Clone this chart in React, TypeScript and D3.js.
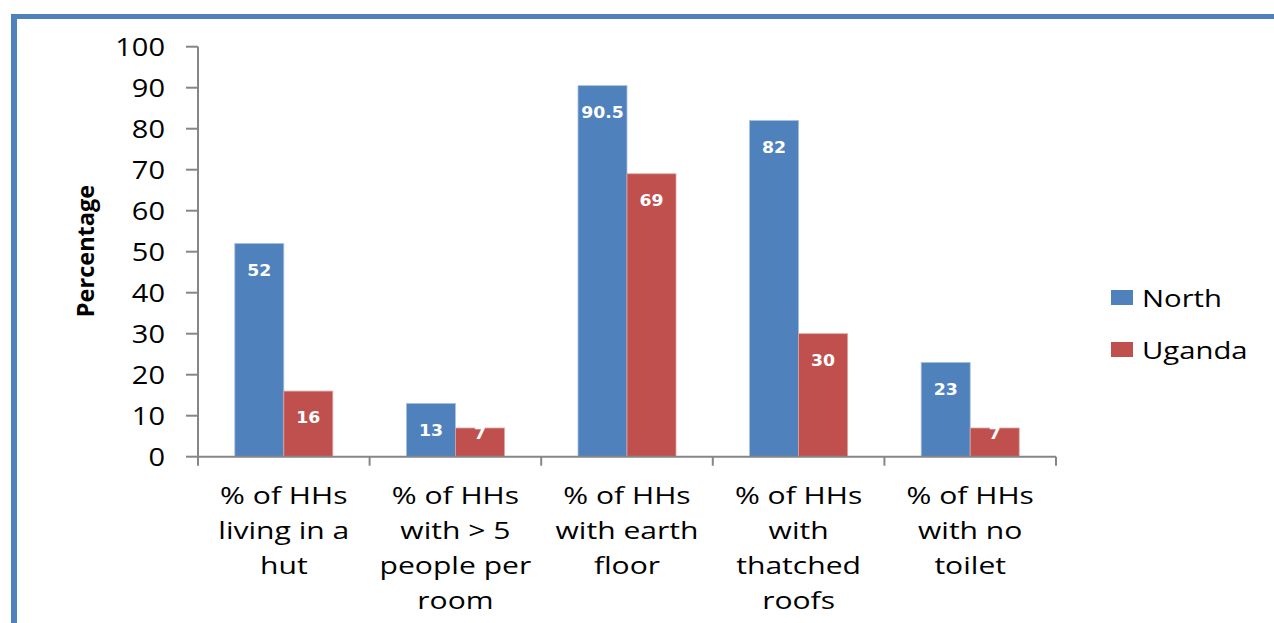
import React from "react";
import * as d3 from "d3";

const categories: string[][] = [
  ["% of HHs", "living in a", "hut"],
  ["% of HHs", "with > 5", "people per", "room"],
  ["% of HHs", "with earth", "floor"],
  ["% of HHs", "with", "thatched", "roofs"],
  ["% of HHs", "with no", "toilet"],
];
const seriesNames = ["North", "Uganda"];
const northValues = [52, 13, 90.5, 82, 23];
const ugandaValues = [16, 7, 69, 30, 7];
const yTicks = [0, 10, 20, 30, 40, 50, 60, 70, 80, 90, 100];
const colors = ["#4F81BD", "#C0504D"];

const FONT = "'Open Sans', 'Liberation Sans', sans-serif";

export default function App() {
  const W = 1274, H = 623;
  const x0 = 198, x1 = 1056;
  const yScale = d3.scaleLinear().domain([0, 100]).range([456.7, 46.7]);
  const xScale = d3.scaleBand<number>().domain(categories.map((_, i) => i)).range([x0, x1]).padding(0);
  const groupW = 98;
  const values = [northValues, ugandaValues];
  const axisColor = "#868686";

  return (
    <svg width={W} height={H} style={{ position: "absolute", left: 0, top: 0, background: "#fff" }}>
      <rect x={0} y={0} width={W} height={H} fill="#fff" />
      {/* frame */}
      <rect x={11} y={14} width={W - 11} height={5} fill="#4F81BD" />
      <rect x={11} y={14} width={6} height={H - 14} fill="#4F81BD" />

      {/* bars */}
      {categories.map((_, ci) => {
        const cx = (xScale(ci) as number) + xScale.bandwidth() / 2;
        const inner = d3.scaleBand<number>().domain([0, 1]).range([cx - groupW / 2, cx + groupW / 2]).padding(0);
        return (
          <g key={ci}>
            {values.map((vals, si) => {
              const v = vals[ci];
              const top = yScale(v);
              const h = yScale(0) - top;
              const bx = inner(si) as number;
              const ly = h > 40 ? top + 27 : top + 6;
              return (
                <g key={si}>
                  <rect x={bx} y={top} width={inner.bandwidth()} height={h} fill={colors[si]} stroke={si === 0 ? "#a7c0de" : "#dba3a1"} strokeWidth={0.8} />
                  <text transform={`translate(${bx + inner.bandwidth() / 2},${ly}) scale(1.08,1)`} textAnchor="middle" dominantBaseline="central"
                    fontFamily="'DejaVu Sans', Verdana, sans-serif" fontWeight="bold" fontSize={16} fill="#fff">
                    {String(v)}
                  </text>
                </g>
              );
            })}
          </g>
        );
      })}

      {/* y axis */}
      <line x1={x0} x2={x0} y1={yScale(100)} y2={yScale(0)} stroke={axisColor} strokeWidth={2} />
      {yTicks.map((t) => (
        <g key={t}>
          <line x1={186} x2={x0} y1={yScale(t)} y2={yScale(t)} stroke={axisColor} strokeWidth={2} />
          <text transform={`translate(165,${yScale(t)}) scale(1.16,1)`} textAnchor="end" dominantBaseline="central" fontFamily={FONT} fontSize={25} fill="#000">
            {t}
          </text>
        </g>
      ))}

      {/* x axis */}
      <line x1={x0} x2={x1} y1={yScale(0)} y2={yScale(0)} stroke={axisColor} strokeWidth={2} />
      {d3.range(categories.length + 1).map((i) => {
        const xx = x0 + i * xScale.bandwidth();
        return <line key={i} x1={xx} x2={xx} y1={yScale(0)} y2={yScale(0) + 9} stroke={axisColor} strokeWidth={2} />;
      })}
      {categories.map((lines, ci) => {
        const cx = (xScale(ci) as number) + xScale.bandwidth() / 2;
        return (
          <text key={ci} transform={`translate(${cx},0) scale(1.28,1)`} textAnchor="middle" fontFamily={FONT} fontSize={23.5} fill="#000">
            {lines.map((ln, li) => (
              <tspan key={li} x={0} y={495 + li * 35} dominantBaseline="central">{ln}</tspan>
            ))}
          </text>
        );
      })}

      {/* y title */}
      <text transform="translate(85,251) rotate(-90)" textAnchor="middle" dominantBaseline="central"
        fontFamily={FONT} fontWeight="bold" fontSize={23.5} fill="#000">Percentage</text>

      {/* legend */}
      {seriesNames.map((s, i) => (
        <g key={s}>
          <rect x={1111} y={290 + i * 52} width={22} height={15} fill={colors[i]} />
          <text transform={`translate(1142,${297.5 + i * 52}) scale(1.22,1)`} dominantBaseline="central" fontFamily={FONT} fontSize={24} fill="#000">{s}</text>
        </g>
      ))}
    </svg>
  );
}
